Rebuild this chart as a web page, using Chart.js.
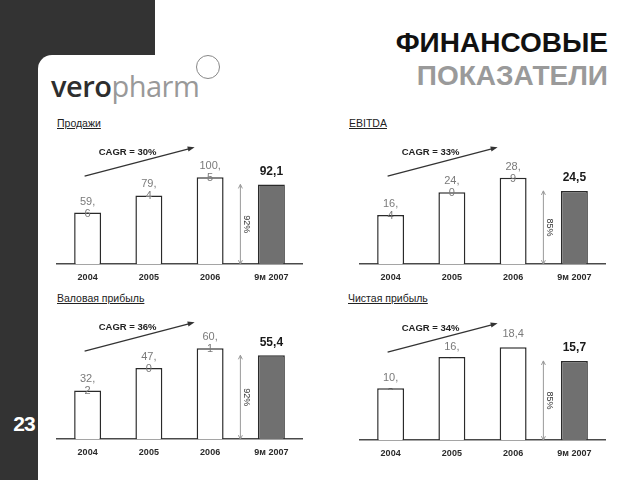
<!DOCTYPE html>
<html><head><meta charset="utf-8">
<script src="https://cdn.jsdelivr.net/npm/chart.js@4.4.0/dist/chart.umd.min.js"></script>
<style>
html,body{margin:0;padding:0;width:640px;height:480px;overflow:hidden;background:#fff;font-family:"Liberation Sans",Arial,sans-serif;}
.dark{position:absolute;background:#333;}
#sheet{position:absolute;left:38px;top:55px;width:602px;height:425px;background:#fff;border-top-left-radius:14px;}
#num{position:absolute;left:8px;top:412px;width:32px;text-align:center;color:#fff;font-weight:bold;font-size:21px;letter-spacing:-1px;}
#t1,#t2{position:absolute;right:32px;font-weight:bold;font-size:28px;white-space:nowrap;}
#t1{top:27px;color:#111;}
#t2{top:60px;color:#9a9a9a;}
#logo{position:absolute;left:51px;top:66px;font-family:"Open Sans",sans-serif;font-size:29px;letter-spacing:-0.5px;}
#logo .a{color:#2e2e2e;font-weight:600;} #logo .b{color:#999;}
#circ{position:absolute;left:196px;top:55px;width:22px;height:22px;border:1.3px solid #888;border-radius:50%;}
.ptitle{position:absolute;font-size:10.5px;color:#222;text-decoration:underline;white-space:nowrap;}
canvas{position:absolute;}
</style></head>
<body>
<div class="dark" style="left:0;top:0;width:155px;height:80px;"></div>
<div class="dark" style="left:0;top:0;width:38px;height:480px;"></div>
<div id="sheet"></div>
<div id="num">23</div>
<div id="t1">ФИНАНСОВЫЕ</div>
<div id="t2">ПОКАЗАТЕЛИ</div>
<div id="logo"><span class="a">vero</span><span class="b">pharm</span></div>
<div id="circ"></div>
<div class="ptitle" id="p0" style="left:57px;top:117px;"></div>
<div class="ptitle" id="p1" style="left:349px;top:117px;"></div>
<div class="ptitle" id="p2" style="left:57px;top:292px;"></div>
<div class="ptitle" id="p3" style="left:348px;top:292px;"></div>
<canvas id="c0" width="275" height="165" style="left:40px;top:130px;"></canvas>
<canvas id="c1" width="280" height="165" style="left:340px;top:130px;"></canvas>
<canvas id="c2" width="275" height="165" style="left:40px;top:305px;"></canvas>
<canvas id="c3" width="280" height="165" style="left:340px;top:306px;"></canvas>
<script>
const categories = ["2004", "2005", "2006", "9м 2007"];
const salesValues = [59.6, 79.4, 100.5, 92.1];
const ebitdaValues = [16.4, 24.0, 28.9, 24.5];
const grossValues = [32.2, 47.0, 60.1, 55.4];
const netValues = [10.3, 16.5, 18.4, 15.7];
const panelTitles = ["Продажи", "EBITDA", "Валовая прибыль", "Чистая прибыль"];
const cagrLabels = ["CAGR = 30%", "CAGR = 33%", "CAGR = 36%", "CAGR = 34%"];
const axisMax = [143.4, 41.5, 82, 24.6];
const wrapFlags = [[true, true, true], [true, true, true], [true, true, true], [true, true, false]];
const labelsBehind = [false, false, false, true];

Chart.defaults.font.family = '"Liberation Sans", Arial, sans-serif';
panelTitles.forEach((t, i) => document.getElementById('p' + i).textContent = t);

function fmt(v){ return v.toFixed(1).replace('.', ','); }

function drawValueLabels(chart, o){
  const ctx = chart.ctx, meta = chart.getDatasetMeta(0), vals = chart.data.datasets[0].data;
  const d1 = o.behind ? -10 : -11, d2 = o.behind ? 5 : 1;
  ctx.save();
  ctx.textAlign = 'center'; ctx.textBaseline = 'middle';
  meta.data.forEach((bar, i) => {
    const txt = fmt(vals[i]);
    if (i === vals.length - 1) {
      ctx.font = 'bold 12px "Liberation Sans", Arial';
      ctx.fillStyle = '#1a1a1a';
      ctx.fillText(txt, bar.x, bar.y - 13);
    } else {
      ctx.font = '11px "Liberation Sans", Arial';
      ctx.fillStyle = '#7a7a7a';
      if (o.wrap[i]) {
        const p = txt.split(',');
        ctx.fillText(p[0] + ',', bar.x, bar.y + d1);
        ctx.fillText(p[1], bar.x, bar.y + d2);
      } else {
        ctx.fillText(txt, bar.x, bar.y - 13);
      }
    }
  });
  ctx.restore();
}

const annotPlugin = {
  id: 'annot',
  beforeDatasetsDraw(chart, args, o){ if (o.behind) drawValueLabels(chart, o); },
  afterDatasetsDraw(chart, args, o){
    if (!o.behind) drawValueLabels(chart, o);
    const ctx = chart.ctx, meta = chart.getDatasetMeta(0), ys = chart.scales.y;
    const base = ys.getPixelForValue(0);
    const b0 = meta.data[0], b3 = meta.data[3];
    // CAGR arrow
    const x1 = b0.x - 3, y1 = base - 88, x2 = b0.x + 107, y2 = base - 117;
    ctx.save();
    ctx.strokeStyle = '#333'; ctx.fillStyle = '#333'; ctx.lineWidth = 1.2;
    ctx.beginPath(); ctx.moveTo(x1, y1); ctx.lineTo(x2 - 4, y2 + 1.1); ctx.stroke();
    const ang = Math.atan2(y2 - y1, x2 - x1);
    ctx.beginPath();
    ctx.moveTo(x2, y2);
    ctx.lineTo(x2 - 7 * Math.cos(ang) + 2.5 * Math.sin(ang), y2 - 7 * Math.sin(ang) - 2.5 * Math.cos(ang));
    ctx.lineTo(x2 - 7 * Math.cos(ang) - 2.5 * Math.sin(ang), y2 - 7 * Math.sin(ang) + 2.5 * Math.cos(ang));
    ctx.closePath(); ctx.fill();
    ctx.font = 'bold 9.5px "Liberation Sans", Arial';
    ctx.textAlign = 'center'; ctx.textBaseline = 'middle';
    ctx.fillStyle = '#222';
    ctx.fillText(o.cagr, b0.x + 40, base - 112);
    // percent double arrow
    const vals = chart.data.datasets[0].data;
    const pct = Math.round(vals[3] / vals[2] * 100) + '%';
    const px = b3.x - 31, top = b3.y, bot = base;
    ctx.strokeStyle = '#999'; ctx.lineWidth = 1;
    ctx.beginPath(); ctx.moveTo(px, top); ctx.lineTo(px, bot); ctx.stroke();
    ctx.beginPath();
    ctx.moveTo(px - 2, top + 4); ctx.lineTo(px, top); ctx.lineTo(px + 2, top + 4);
    ctx.moveTo(px - 2, bot - 4); ctx.lineTo(px, bot); ctx.lineTo(px + 2, bot - 4);
    ctx.stroke();
    ctx.translate(px + 6, (top + bot) / 2);
    ctx.rotate(Math.PI / 2);
    ctx.font = '9px "Liberation Sans", Arial';
    ctx.fillStyle = '#333';
    ctx.fillText(pct, 0, 0);
    ctx.restore();
  }
};

function makeChart(id, values, idx, pad){
  new Chart(document.getElementById(id), {
    type: 'bar',
    data: {
      labels: categories,
      datasets: [{
        data: values,
        backgroundColor: values.map((v, i) => i === values.length - 1 ? '#707070' : '#ffffff'),
        borderColor: '#2a2a2a',
        borderWidth: 1.5,
        barPercentage: 0.44,
        categoryPercentage: 1
      }]
    },
    options: {
      responsive: false,
      animation: false,
      events: [],
      layout: { padding: pad },
      plugins: {
        legend: { display: false },
        tooltip: { enabled: false },
        annot: { cagr: cagrLabels[idx], wrap: wrapFlags[idx], behind: labelsBehind[idx] }
      },
      scales: {
        x: {
          grid: { display: false, drawTicks: false },
          border: { display: true, color: '#4a4a4a', width: 1.5 },
          ticks: { color: '#2a2a2a', font: { size: 9, weight: 'bold' }, padding: 8 }
        },
        y: { display: false, min: 0, max: axisMax[idx] }
      }
    },
    plugins: [annotPlugin]
  });
}

makeChart('c0', salesValues, 0, { left: 17, right: 13, top: 10, bottom: 4 });
makeChart('c1', ebitdaValues, 1, { left: 20, right: 15, top: 10, bottom: 4 });
makeChart('c2', grossValues, 2, { left: 17, right: 13, top: 10, bottom: 4 });
makeChart('c3', netValues, 3, { left: 20, right: 15, top: 10, bottom: 4 });
</script>
</body></html>
